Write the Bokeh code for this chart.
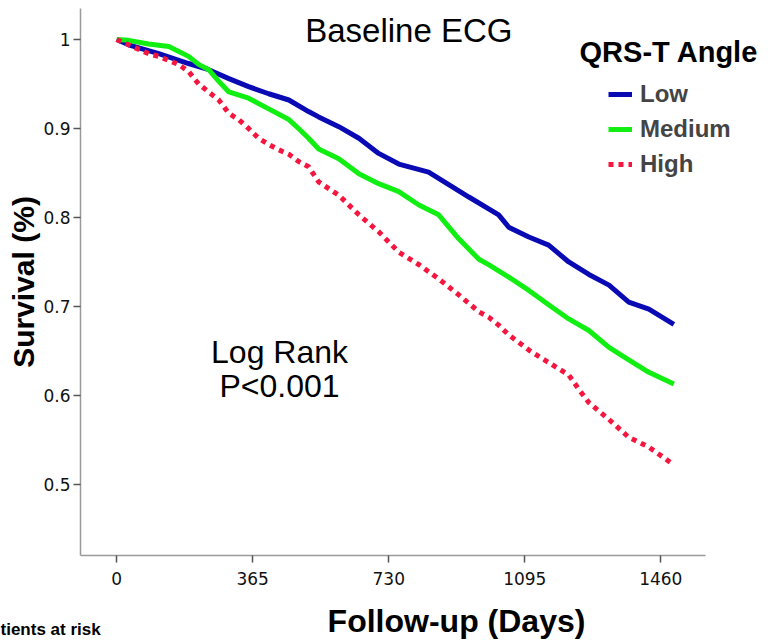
from bokeh.plotting import figure
from bokeh.models import Range1d, FixedTicker, Label, Legend, LegendItem
from bokeh.layouts import column, row
from bokeh.embed import file_html
from bokeh.resources import INLINE

# ---- data ----
low_days = [0, 32, 113, 193, 247, 301, 354, 408, 462, 515, 542, 596, 650, 703, 757, 837,
            891, 945, 1025, 1052, 1106, 1159, 1213, 1267, 1321, 1374, 1428, 1495]
low_surv = [1.0, 0.994, 0.984, 0.973, 0.966, 0.956, 0.947, 0.939, 0.932, 0.919, 0.913, 0.902,
            0.889, 0.872, 0.860, 0.851, 0.837, 0.823, 0.803, 0.789, 0.778, 0.769, 0.750,
            0.736, 0.724, 0.705, 0.697, 0.680]

med_days = [0, 32, 86, 140, 193, 220, 247, 274, 301, 354, 408, 462, 488, 515, 542, 596, 650,
            703, 757, 811, 864, 918, 972, 998, 1052, 1106, 1159, 1213, 1267, 1321, 1374,
            1428, 1495]
med_surv = [1.0, 0.999, 0.995, 0.992, 0.981, 0.972, 0.966, 0.953, 0.941, 0.934, 0.922, 0.910,
            0.900, 0.889, 0.877, 0.866, 0.849, 0.838, 0.829, 0.814, 0.803, 0.776, 0.753,
            0.747, 0.733, 0.718, 0.702, 0.686, 0.673, 0.654, 0.640, 0.626, 0.613]

high_days = [0, 32, 86, 113, 166, 193, 220, 247, 274, 301, 327, 354, 381, 408, 435, 462, 488,
             515, 542, 596, 650, 703, 757, 811, 864, 918, 972, 998, 1025, 1052, 1106, 1159,
             1213, 1240, 1267, 1321, 1374, 1428, 1485]
high_surv = [1.0, 0.994, 0.984, 0.981, 0.972, 0.964, 0.950, 0.941, 0.932, 0.917, 0.910, 0.900,
             0.889, 0.882, 0.876, 0.871, 0.863, 0.857, 0.840, 0.825, 0.803, 0.784, 0.761,
             0.747, 0.731, 0.713, 0.694, 0.688, 0.679, 0.668, 0.651, 0.637, 0.623, 0.607,
             0.592, 0.573, 0.553, 0.542, 0.525]

x_ticks = [0, 365, 730, 1095, 1460]
y_ticks = [0.5, 0.6, 0.7, 0.8, 0.9, 1.0]
y_tick_labels = ["0.5", "0.6", "0.7", "0.8", "0.9", "1"]

series_names = ["Low", "Medium", "High"]
title_text = "Baseline ECG"
legend_title = "QRS-T Angle"
x_title = "Follow-up (Days)"
y_title = "Survival (%)"
stat_lines = ["Log Rank", "P<0.001"]
risk_text = "tients at risk"

FONT = "Liberation Sans"

# ---- main figure ----
p = figure(width=771, height=595, output_backend="svg", toolbar_location=None,
           x_range=Range1d(-97, 1757), y_range=Range1d(0.4202, 1.0348),
           min_border_left=80, min_border_right=0, min_border_top=8, min_border_bottom=40)
p.outline_line_color = None
p.grid.visible = False
p.background_fill_color = "white"

for ax in (p.xaxis[0], p.yaxis[0]):
    ax.axis_line_color = "#9a9a9a"
    ax.axis_line_width = 1.5
    ax.major_tick_line_color = "#555555"
    ax.major_tick_line_width = 1.5
    ax.major_tick_out = 7
    ax.major_tick_in = 0
    ax.minor_tick_line_color = None
    ax.major_label_text_color = "#111111"
    ax.major_label_text_font = "DejaVu Sans"
    ax.major_label_text_font_size = "17px"

p.xaxis.bounds = (-97, 1580)
p.xaxis.ticker = FixedTicker(ticks=x_ticks)
p.xaxis.major_label_standoff = 9

p.yaxis.ticker = FixedTicker(ticks=y_ticks)
p.yaxis.major_label_overrides = {t: s for t, s in zip(y_ticks, y_tick_labels)}
p.yaxis.major_label_standoff = 3
p.yaxis.axis_label = y_title
p.yaxis.axis_label_text_font = FONT
p.yaxis.axis_label_text_font_style = "bold"
p.yaxis.axis_label_text_font_size = "30px"
p.yaxis.axis_label_text_color = "black"
p.yaxis.axis_label_standoff = 0

r_low = p.line(low_days, low_surv, line_color="#0a0ab4", line_width=5)
r_med = p.line(med_days, med_surv, line_color="#11ee11", line_width=5)
r_high = p.line(high_days, high_surv, line_color="#f5163f", line_width=5,
                line_dash="5 5")

legend = Legend(items=[LegendItem(label=series_names[0], renderers=[r_low]),
                       LegendItem(label=series_names[1], renderers=[r_med]),
                       LegendItem(label=series_names[2], renderers=[r_high])],
                location=(528, 377), padding=0, spacing=7, glyph_width=24, glyph_height=20,
                label_standoff=8, label_text_font=FONT,
                label_text_font_style="bold", label_text_font_size="24px",
                background_fill_alpha=0, border_line_alpha=0)
p.add_layout(legend)

p.add_layout(Label(x=1242, y=0.9854, text=legend_title, text_font=FONT,
                   text_font_style="bold", text_font_size="29px", text_align="left",
                   text_baseline="middle", text_color="black"))
p.add_layout(Label(x=784, y=1.0101, text=title_text, text_font=FONT,
                   text_font_size="33px", text_align="center", text_baseline="middle",
                   text_color="black"))
p.add_layout(Label(x=437, y=0.6483, text=stat_lines[0], text_font=FONT,
                   text_font_size="32px", text_align="center", text_baseline="middle",
                   text_color="black"))
p.add_layout(Label(x=437, y=0.6112, text=stat_lines[1], text_font=FONT,
                   text_font_size="32px", text_align="center", text_baseline="middle",
                   text_color="black"))

# ---- strip below the axis for the x title and the risk-table caption ----
q = figure(width=771, height=45, output_backend="svg", toolbar_location=None,
           x_axis_type=None, y_axis_type=None,
           x_range=Range1d(0, 771), y_range=Range1d(0, 45),
           min_border=0, min_border_left=0, min_border_right=0,
           min_border_top=0, min_border_bottom=0)
q.grid.visible = False
q.outline_line_color = None
q.add_layout(Label(x=456, y=20, text=x_title, text_font=FONT, text_font_style="bold",
                   text_font_size="32px", text_align="center", text_baseline="middle",
                   text_color="black"))
q.add_layout(Label(x=0, y=11, text=risk_text, text_font=FONT, text_font_style="bold",
                   text_font_size="17px", text_align="left", text_baseline="middle",
                   text_color="black"))

layout = column(p, row(q), spacing=0)
open("out.html", "w").write(file_html(layout, INLINE))
